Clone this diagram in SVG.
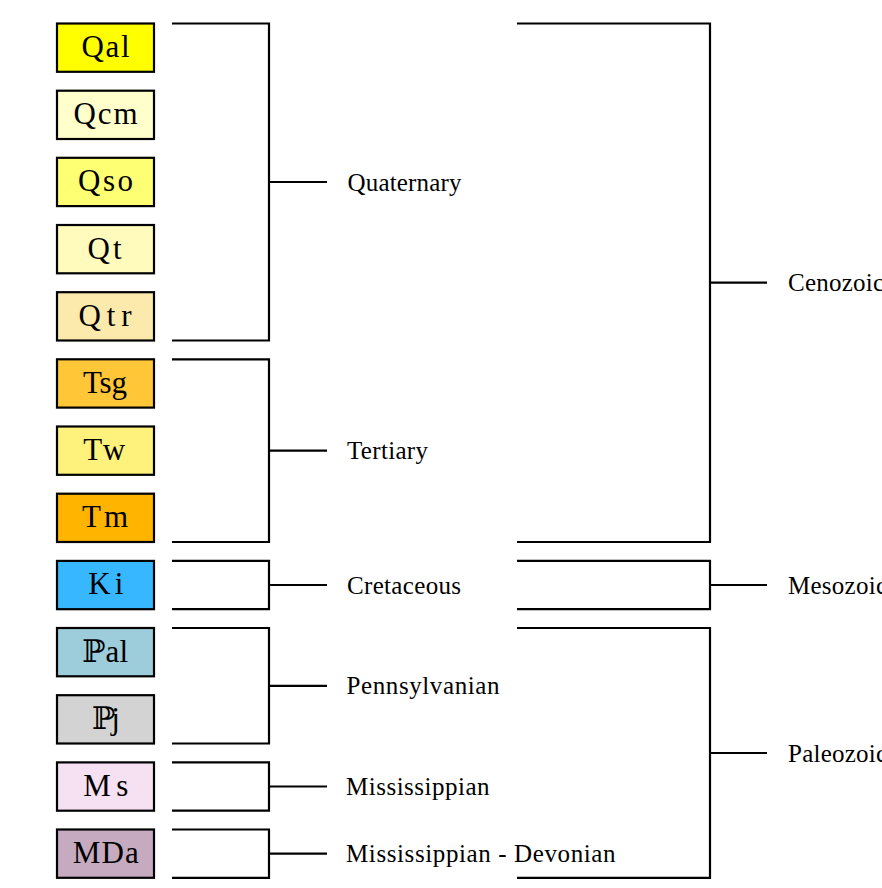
<svg xmlns="http://www.w3.org/2000/svg" width="882" height="888" viewBox="0 0 882 888">
<style>
.box{stroke:#000;stroke-width:2.2}
.bl{font-family:"Liberation Serif","DejaVu Serif",serif;font-size:31px;text-anchor:middle;fill:#000}
.lb{font-family:"Liberation Serif","DejaVu Serif",serif;font-size:25px;fill:#000}
.c{fill:none;stroke:#000;stroke-width:2.2;stroke-linejoin:miter}
</style>
<rect width="882" height="888" fill="#fff"/>
<g id="Qal"><rect class="box" x="57" y="23.5" width="97" height="48.3" fill="#FFFF00"/><text class="bl" x="105.5" y="57" textLength="48" lengthAdjust="spacing">Qal</text></g>
<g id="Qcm"><rect class="box" x="57" y="90.7" width="97" height="48.3" fill="#FFFFCC"/><text class="bl" x="105.5" y="124.2" textLength="64" lengthAdjust="spacing">Qcm</text></g>
<g id="Qso"><rect class="box" x="57" y="157.8" width="97" height="48.3" fill="#FFFF73"/><text class="bl" x="105.5" y="191.3" textLength="55" lengthAdjust="spacing">Qso</text></g>
<g id="Qt"><rect class="box" x="57" y="225" width="97" height="48.3" fill="#FFFBBC"/><text class="bl" x="104.5" y="258.5" textLength="34" lengthAdjust="spacing">Qt</text></g>
<g id="Qtr"><rect class="box" x="57" y="292.2" width="97" height="48.3" fill="#FCE9AC"/><text class="bl" x="105" y="325.7" textLength="53" lengthAdjust="spacing">Qtr</text></g>
<g id="Tsg"><rect class="box" x="57" y="359.3" width="97" height="48.3" fill="#FFC637"/><text class="bl" x="105" y="392.8" textLength="44" lengthAdjust="spacing">Tsg</text></g>
<g id="Tw"><rect class="box" x="57" y="426.5" width="97" height="48.3" fill="#FFF27C"/><text class="bl" x="104.2" y="460" textLength="42" lengthAdjust="spacing">Tw</text></g>
<g id="Tm"><rect class="box" x="57" y="493.7" width="97" height="48.3" fill="#FFB500"/><text class="bl" x="105" y="527.2" textLength="46" lengthAdjust="spacing">Tm</text></g>
<g id="Ki"><rect class="box" x="57" y="560.9" width="97" height="48.3" fill="#37B7FF"/><text class="bl" x="105.8" y="594.4" textLength="35" lengthAdjust="spacing">Ki</text></g>
<g id="Pal"><rect class="box" x="57" y="628" width="97" height="48.3" fill="#9DCCDB"/><text class="bl" x="105" y="661.5" textLength="46" lengthAdjust="spacing">ℙal</text></g>
<g id="Pj"><rect class="box" x="57" y="695.2" width="97" height="48.3" fill="#D3D3D3"/><text class="bl" x="105.8" y="728.7" textLength="28" lengthAdjust="spacing">ℙj</text></g>
<g id="Ms"><rect class="box" x="57" y="762.4" width="97" height="48.3" fill="#F5E1F2"/><text class="bl" x="105.8" y="795.9" textLength="45" lengthAdjust="spacing">Ms</text></g>
<g id="MDa"><rect class="box" x="57" y="829.5" width="97" height="48.3" fill="#C6AAC0"/><text class="bl" x="105.7" y="863" textLength="66" lengthAdjust="spacing">MDa</text></g>
<g id="connectors">
<polyline class="c" points="172,23.5 269,23.5 269,340.5 172,340.5"/><line class="c" x1="269" y1="182" x2="327" y2="182"/>
<polyline class="c" points="172,359.3 269,359.3 269,542 172,542"/><line class="c" x1="269" y1="450.6" x2="327" y2="450.6"/>
<polyline class="c" points="172,560.9 269,560.9 269,609.2 172,609.2"/><line class="c" x1="269" y1="585" x2="327" y2="585"/>
<polyline class="c" points="172,628 269,628 269,743.5 172,743.5"/><line class="c" x1="269" y1="685.8" x2="327" y2="685.8"/>
<polyline class="c" points="172,762.4 269,762.4 269,810.7 172,810.7"/><line class="c" x1="269" y1="786.5" x2="327" y2="786.5"/>
<polyline class="c" points="172,829.5 269,829.5 269,877.8 172,877.8"/><line class="c" x1="269" y1="853.7" x2="327" y2="853.7"/>
<polyline class="c" points="517,23.5 710,23.5 710,542 517,542"/><line class="c" x1="710" y1="282.7" x2="767" y2="282.7"/>
<polyline class="c" points="517,560.9 710,560.9 710,609.2 517,609.2"/><line class="c" x1="710" y1="585" x2="767" y2="585"/>
<polyline class="c" points="517,628 710,628 710,877.8 517,877.8"/><line class="c" x1="710" y1="753" x2="767" y2="753"/>
</g>
<g id="Quaternary"><text class="lb" x="347.5" y="190.5" textLength="114" lengthAdjust="spacing">Quaternary</text></g>
<g id="Tertiary"><text class="lb" x="347" y="459" textLength="81" lengthAdjust="spacing">Tertiary</text></g>
<g id="Cretaceous"><text class="lb" x="347" y="593.5" textLength="114" lengthAdjust="spacing">Cretaceous</text></g>
<g id="Pennsylvanian"><text class="lb" x="346.5" y="694.3" textLength="153" lengthAdjust="spacing">Pennsylvanian</text></g>
<g id="Mississippian"><text class="lb" x="346" y="795" textLength="143.5" lengthAdjust="spacing">Mississippian</text></g>
<g id="Mississippian-Devonian"><text class="lb" x="346" y="862.2" textLength="269.5" lengthAdjust="spacing">Mississippian - Devonian</text></g>
<g id="Cenozoic"><text class="lb" x="788" y="291.2" textLength="96" lengthAdjust="spacing">Cenozoic</text></g>
<g id="Mesozoic"><text class="lb" x="788" y="593.5" textLength="99" lengthAdjust="spacing">Mesozoic</text></g>
<g id="Paleozoic"><text class="lb" x="788" y="761.5" textLength="99" lengthAdjust="spacing">Paleozoic</text></g>
</svg>
